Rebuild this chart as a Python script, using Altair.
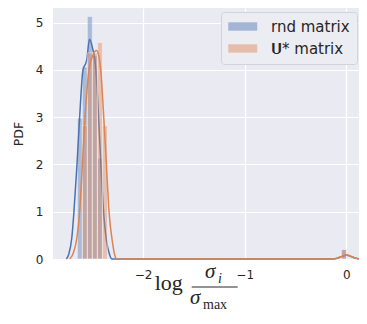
import altair as alt
import pandas as pd

# ---------------- data ----------------
series_names = ["rnd matrix", "𝐔* matrix"]
series_colors = ["#4C72B0", "#DD8452"]

bin_width = 0.049
blue_bin_left = [-2.645, -2.596, -2.547, -2.498, -2.448, -0.049]
blue_density = [2.98, 4.06, 5.13, 4.30, 2.13, 0.20]
orange_bin_left = [-2.596, -2.547, -2.498, -2.448, -2.399, -0.049]
orange_density = [2.82, 4.36, 4.36, 4.58, 2.82, 0.20]

blue_kde_x = [-2.753, -2.73, -2.70, -2.680, -2.649, -2.623, -2.590, -2.554, -2.526,
              -2.495, -2.463, -2.437, -2.414, -2.388, -2.36, -2.33, -2.306, -2.20,
              -1.50, -0.80, -0.13, -0.09, -0.05, -0.02, 0.0, 0.02, 0.05, 0.09, 0.13]
blue_kde_y = [0.0, 0.10, 0.45, 0.97, 2.0, 3.0, 4.0, 4.2, 4.65,
              4.45, 4.0, 3.0, 2.0, 1.0, 0.4, 0.1, 0.0, 0.0,
              0.0, 0.0, 0.0, 0.015, 0.05, 0.075, 0.08, 0.075, 0.05, 0.015, 0.0]

orange_kde_x = [-2.721, -2.69, -2.65, -2.623, -2.596, -2.570, -2.531, -2.495, -2.458,
                -2.435, -2.416, -2.386, -2.360, -2.334, -2.30, -2.28, -2.256, -2.15,
                -1.50, -0.80, -0.13, -0.09, -0.05, -0.02, 0.0, 0.02, 0.05, 0.09, 0.13]
orange_kde_y = [0.0, 0.10, 0.45, 1.0, 2.0, 3.0, 4.0, 4.3, 4.41,
                4.3, 4.0, 3.0, 2.0, 1.0, 0.35, 0.1, 0.0, 0.0,
                0.0, 0.0, 0.0, 0.015, 0.05, 0.08, 0.09, 0.08, 0.05, 0.015, 0.0]

x_ticks = [-2, -1, 0]
y_ticks = [0, 1, 2, 3, 4, 5]

# ---------------- tables ----------------
def bar_table(lefts, dens, name):
    return pd.DataFrame({"x0": lefts,
                         "x1": [v + bin_width for v in lefts],
                         "density": dens,
                         "base": [0.0] * len(lefts),
                         "series": name})

def kde_table(xs, ys, col):
    return pd.DataFrame({"x": xs, "y": ys, "col": col})

blue_bars = bar_table(blue_bin_left, blue_density, series_names[0])
orange_bars = bar_table(orange_bin_left, orange_density, series_names[1])
blue_kde = kde_table(blue_kde_x, blue_kde_y, series_colors[0])
orange_kde = kde_table(orange_kde_x, orange_kde_y, series_colors[1])

TXT = "#262626"
xscale = alt.Scale(domain=[-2.885, 0.124], nice=False, zero=False)
yscale = alt.Scale(domain=[0, 5.31], nice=False)
xaxis = alt.Axis(values=x_ticks, title=None, grid=True, domain=False, ticks=False,
                 labelPadding=10, labelFontSize=12, labelColor=TXT, labelFont="DejaVu Sans",
                 gridColor="white", gridWidth=1.2)
yaxis = alt.Axis(values=y_ticks, title="PDF", grid=True, domain=False, ticks=False,
                 labelPadding=10, labelFontSize=12, labelColor=TXT, labelFont="DejaVu Sans",
                 titleFontSize=12.5, titleFontWeight="normal", titleColor=TXT,
                 titleFont="DejaVu Sans", titlePadding=10,
                 gridColor="white", gridWidth=1.2)

color_scale = alt.Scale(domain=series_names, range=series_colors)
legend = alt.Legend(title=None, orient="none", legendX=168, legendY=4,
                    symbolType="M-1,-0.58H3V0.58H-1Z", symbolSize=210,
                    symbolOpacity=0.45, symbolStrokeWidth=0,
                    labelFontSize=15, labelFont="DejaVu Sans", labelColor=TXT,
                    labelOffset=28, padding=7, rowPadding=6,
                    fillColor="#ececf3", strokeColor="#d2d2da", cornerRadius=3)


def bars(df):
    return alt.Chart(df).mark_rect(fillOpacity=0.4, stroke="white", strokeWidth=1,
                                   strokeOpacity=0.4).encode(
        x=alt.X("x0:Q", scale=xscale, axis=xaxis),
        x2="x1:Q",
        y=alt.Y("density:Q", scale=yscale, axis=yaxis),
        y2="base:Q",
        color=alt.Color("series:N", scale=color_scale, legend=legend),
    )


def kde(df):
    return alt.Chart(df).mark_line(strokeWidth=1.5, interpolate="monotone").encode(
        x=alt.X("x:Q", scale=xscale, axis=xaxis),
        y=alt.Y("y:Q", scale=yscale, axis=yaxis),
        color=alt.Color("col:N", scale=None),
    )


one = alt.Data(values=[{}])


def label(text, x, y, size, style="normal", align="left"):
    return alt.Chart(one).mark_text(text=text, font="Liberation Serif", fontSize=size,
                                    fontStyle=style, align=align, baseline="alphabetic",
                                    color=TXT).encode(x=alt.value(x), y=alt.value(y))


# title pieces, in plot coordinates (plot origin at page 53, 8)
frac = alt.Chart(one).mark_rule(color=TXT, strokeWidth=1).encode(
    x=alt.value(138.7), x2=alt.value(184.7), y=alt.value(279))

title_layers = [
    label("log", 115.7, 282, 22, align="center"),
    label("σ", 152, 270, 21, style="italic"),
    label("i", 165, 274.5, 14, style="italic"),
    label("σ", 137, 296, 21, style="italic"),
    label("max", 150, 300.5, 14),
    frac,
]

chart = alt.layer(
    bars(blue_bars), kde(blue_kde), bars(orange_bars), kde(orange_kde), *title_layers
).properties(
    width=306, height=251,
    autosize=alt.AutoSizeParams(type="none"),
    padding={"left": 45, "top": 0, "right": 0, "bottom": 52},
).configure_view(fill="#EAEAF2", strokeWidth=0)

chart.save("out.html", embed_options={"renderer": "svg", "actions": False})
